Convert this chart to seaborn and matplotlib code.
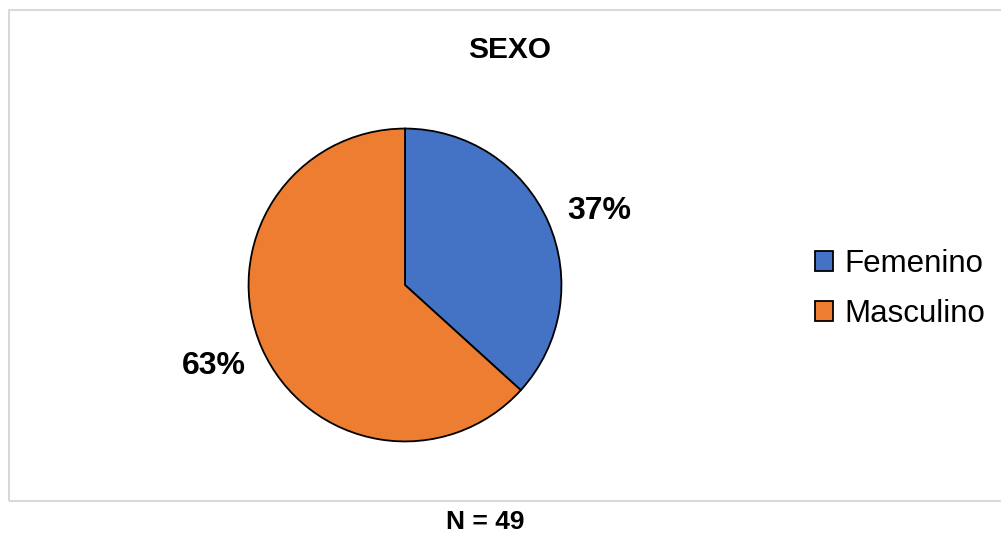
import matplotlib
matplotlib.use("Agg")
import matplotlib.pyplot as plt
import seaborn as sns
from matplotlib.patches import Rectangle
from matplotlib.transforms import offset_copy

categories = ["Femenino", "Masculino"]
counts = [18, 31]
title = "SEXO"
footer = "N = 49"

sns.set_theme(style="white")
plt.rcParams["font.family"] = ["Liberation Sans", "DejaVu Sans"]
colors = ["#4472C4", "#ED7D31"]

W, H = 1001, 533
fig = plt.figure(figsize=(W / 100, H / 100), dpi=100)
fig.patch.set_facecolor("white")

# chart frame
frame = Rectangle((9 / W, (H - 501) / H), 1.2, (501 - 10) / H,
                  transform=fig.transFigure, fill=False,
                  edgecolor="#d9d9d9", linewidth=1.5, zorder=0)
fig.add_artist(frame)

cx, cy, r = 405, 285, 158
ax = fig.add_axes([(cx - r) / W, (H - cy - r) / H, 2 * r / W, 2 * r / H])
wedges, texts, autotexts = ax.pie(
    counts, colors=colors, startangle=90, counterclock=False,
    autopct=lambda p: f"{p:.0f}%", pctdistance=1.32, radius=1,
    wedgeprops=dict(edgecolor="black", linewidth=1.3),
    textprops=dict(fontsize=23, fontweight="bold", color="black"))
# Excel-like label nudges (in points)
nudges = [(4, -7), (-2, 2)]
for t, (dx, dy) in zip(autotexts, nudges):
    t.set_transform(offset_copy(ax.transData, fig=fig, x=dx, y=dy, units="points"))
ax.set_xlim(-1.01, 1.01)
ax.set_ylim(-1.01, 1.01)
ax.set_aspect("equal")
ax.axis("off")

fig.text(510 / W, 1 - 50 / H, title, ha="center", va="center",
         fontsize=21.5, fontweight="bold", color="black")
fig.text(485 / W, 1 - 522 / H, footer, ha="center", va="center",
         fontsize=19, fontweight="bold", color="black")

leg = fig.legend(wedges, categories, loc="center left",
                 bbox_to_anchor=(802 / W, 1 - 289 / H), frameon=False,
                 fontsize=22.5, handlelength=0.6, handleheight=0.6,
                 handletextpad=0.35, labelspacing=0.65, borderaxespad=0,
                 labelcolor="black")
for h in leg.legend_handles:
    h.set_edgecolor("black")
    h.set_linewidth(1.3)

fig.savefig("out.png", dpi=100)
